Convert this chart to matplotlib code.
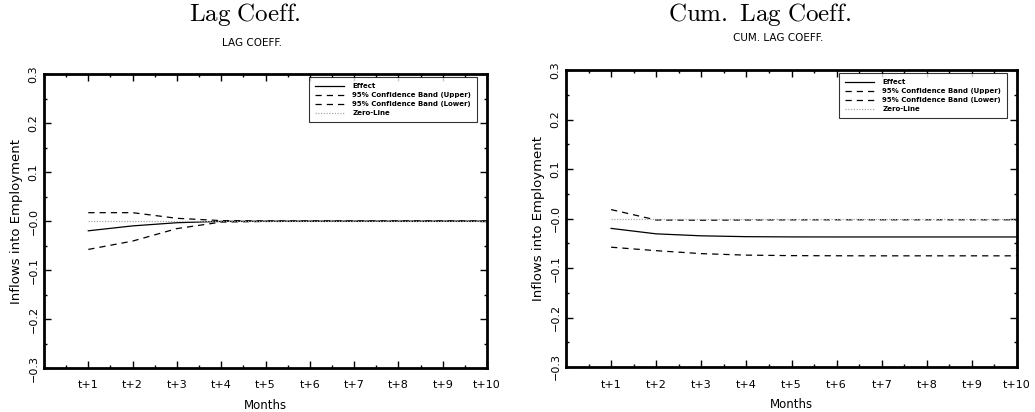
import matplotlib
matplotlib.use("Agg")
import matplotlib.pyplot as plt
from matplotlib.ticker import FixedLocator, FixedFormatter, MultipleLocator

plt.rcParams['font.family'] = ['DejaVu Sans']
plt.rcParams['mathtext.fontset'] = 'cm'

months = [1, 2, 3, 4, 5, 6, 7, 8, 9, 10]
month_labels = ['t+1', 't+2', 't+3', 't+4', 't+5', 't+6', 't+7', 't+8', 't+9', 't+10']
y_ticks = [-0.3, -0.2, -0.1, 0.0, 0.1, 0.2, 0.3]
y_labels = ['\u22120.3', '\u22120.2', '\u22120.1', '\u22120.0', '0.1', '0.2', '0.3']

# lag coefficients
lag_effect = [-0.020, -0.010, -0.0035, -0.0008, -0.0004, -0.0003, -0.0003, -0.0003, -0.0003, -0.0003]
lag_upper = [0.017, 0.017, 0.0055, 0.0008, 0.0002, 0.0002, 0.0002, 0.0002, 0.0002, 0.0002]
lag_lower = [-0.058, -0.041, -0.0155, -0.0022, -0.0009, -0.0008, -0.0008, -0.0008, -0.0008, -0.0008]

# cumulated lag coefficients
cum_effect = [-0.020, -0.031, -0.035, -0.0367, -0.0372, -0.0373, -0.0373, -0.0373, -0.0373, -0.0373]
cum_upper = [0.018, -0.003, -0.0035, -0.0030, -0.0027, -0.0026, -0.0026, -0.0026, -0.0026, -0.0026]
cum_lower = [-0.058, -0.065, -0.071, -0.0740, -0.0750, -0.0753, -0.0754, -0.0754, -0.0754, -0.0754]
zero_line = [0.0] * 10


def draw_panel(ax, effect, upper, lower, subtitle):
    ax.plot(months, effect, color='black', lw=0.9, label='Effect')
    ax.plot(months, upper, color='black', lw=0.9, ls=(0, (5, 4)),
            label='95% Confidence Band (Upper)')
    ax.plot(months, lower, color='black', lw=0.9, ls=(0, (5, 4)),
            label='95% Confidence Band (Lower)')
    ax.plot(months, zero_line, color='#a8a8a8', lw=0.9, ls=(0, (1, 1.2)),
            label='Zero-Line')

    ax.set_xlim(0, 10)
    ax.set_ylim(-0.3, 0.3)
    ax.xaxis.set_major_locator(FixedLocator(months))
    ax.xaxis.set_major_formatter(FixedFormatter(month_labels))
    ax.xaxis.set_minor_locator(MultipleLocator(0.5))
    ax.yaxis.set_major_locator(FixedLocator(y_ticks))
    ax.yaxis.set_major_formatter(FixedFormatter(y_labels))
    ax.yaxis.set_minor_locator(MultipleLocator(0.05))
    ax.tick_params(which='both', direction='in', top=True, right=True,
                   labeltop=False, labelright=False, width=1)
    ax.tick_params(which='major', length=5, labelsize=8)
    ax.tick_params(which='minor', length=2.5)
    ax.tick_params(axis='x', pad=9)
    ax.tick_params(axis='y', pad=4)
    for lbl in ax.get_yticklabels():
        lbl.set_rotation(90)
        lbl.set_va('center')
    for sp in ax.spines.values():
        sp.set_linewidth(2)

    ax.set_xlabel('Months', fontsize=8.5, labelpad=6)
    ax.set_ylabel('Inflows into Employment', fontsize=9.5, labelpad=4)

    leg = ax.legend(loc='upper right', fontsize=5, frameon=True, fancybox=False,
                    edgecolor='black', handlelength=4.2, borderpad=0.8,
                    labelspacing=0.45, handletextpad=1.2,
                    bbox_to_anchor=(0.985, 1.0))
    leg.get_frame().set_linewidth(0.8)
    for t in leg.get_texts():
        t.set_fontweight('bold')
    ax.text(0.47, 1.09, subtitle, transform=ax.transAxes, ha='center',
            va='bottom', fontsize=7.5)


fig = plt.figure(figsize=(10.35, 4.12), dpi=100)
ax1 = fig.add_axes([44 / 1035, 1 - 368 / 412, 443 / 1035, 294 / 412])
ax2 = fig.add_axes([566 / 1035, 1 - 367 / 412, 451 / 1035, 297 / 412])

draw_panel(ax1, lag_effect, lag_upper, lag_lower, 'LAG COEFF.')
draw_panel(ax2, cum_effect, cum_upper, cum_lower, 'CUM. LAG COEFF.')

fig.text(245 / 1035, 1 - 15 / 412, r'$\mathrm{Lag\ Coeff.}$', ha='center',
         va='center', fontsize=18)
fig.text(760 / 1035, 1 - 15 / 412, r'$\mathrm{Cum.\ Lag\ Coeff.}$', ha='center',
         va='center', fontsize=18)

fig.savefig('out.png', dpi=100)
